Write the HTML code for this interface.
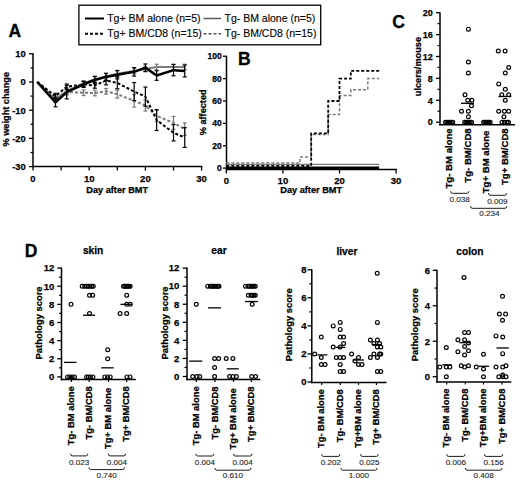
<!DOCTYPE html>
<html><head><meta charset="utf-8"><style>
html,body{margin:0;padding:0;background:#fff;width:520px;height:480px;overflow:hidden}
svg{display:block}
text{font-family:"Liberation Sans", sans-serif;}
</style></head><body>
<svg width="520" height="480" viewBox="0 0 520 480">
<rect width="520" height="480" fill="#fff"/>
<line x1="33.00" y1="53.30" x2="33.00" y2="167.35" stroke="#000" stroke-width="1.5" />
<line x1="32.25" y1="166.60" x2="202.35" y2="166.60" stroke="#000" stroke-width="1.5" />
<line x1="29.00" y1="53.80" x2="33.00" y2="53.80" stroke="#000" stroke-width="1.3" />
<text x="25.70" y="57.10" font-size="9.3" font-weight="bold" text-anchor="end" fill="#000"  stroke="#000" stroke-width="0.25">10</text>
<line x1="29.00" y1="82.00" x2="33.00" y2="82.00" stroke="#000" stroke-width="1.3" />
<text x="25.70" y="85.30" font-size="9.3" font-weight="bold" text-anchor="end" fill="#000"  stroke="#000" stroke-width="0.25">0</text>
<line x1="29.00" y1="110.20" x2="33.00" y2="110.20" stroke="#000" stroke-width="1.3" />
<text x="25.70" y="113.50" font-size="9.3" font-weight="bold" text-anchor="end" fill="#000"  stroke="#000" stroke-width="0.25">-10</text>
<line x1="29.00" y1="138.40" x2="33.00" y2="138.40" stroke="#000" stroke-width="1.3" />
<text x="25.70" y="141.70" font-size="9.3" font-weight="bold" text-anchor="end" fill="#000"  stroke="#000" stroke-width="0.25">-20</text>
<line x1="29.00" y1="166.60" x2="33.00" y2="166.60" stroke="#000" stroke-width="1.3" />
<text x="25.70" y="169.90" font-size="9.3" font-weight="bold" text-anchor="end" fill="#000"  stroke="#000" stroke-width="0.25">-30</text>
<line x1="30.50" y1="67.90" x2="33.00" y2="67.90" stroke="#000" stroke-width="1.2" />
<line x1="30.50" y1="96.10" x2="33.00" y2="96.10" stroke="#000" stroke-width="1.2" />
<line x1="30.50" y1="124.30" x2="33.00" y2="124.30" stroke="#000" stroke-width="1.2" />
<line x1="30.50" y1="152.50" x2="33.00" y2="152.50" stroke="#000" stroke-width="1.2" />
<line x1="33.00" y1="166.60" x2="33.00" y2="170.60" stroke="#000" stroke-width="1.3" />
<line x1="61.10" y1="166.60" x2="61.10" y2="170.60" stroke="#000" stroke-width="1.3" />
<line x1="89.20" y1="166.60" x2="89.20" y2="170.60" stroke="#000" stroke-width="1.3" />
<line x1="117.30" y1="166.60" x2="117.30" y2="170.60" stroke="#000" stroke-width="1.3" />
<line x1="145.40" y1="166.60" x2="145.40" y2="170.60" stroke="#000" stroke-width="1.3" />
<line x1="173.50" y1="166.60" x2="173.50" y2="170.60" stroke="#000" stroke-width="1.3" />
<line x1="201.60" y1="166.60" x2="201.60" y2="170.60" stroke="#000" stroke-width="1.3" />
<text x="33.00" y="181.70" font-size="9.5" font-weight="bold" text-anchor="middle" fill="#000"  stroke="#000" stroke-width="0.25">0</text>
<text x="89.20" y="181.70" font-size="9.5" font-weight="bold" text-anchor="middle" fill="#000"  stroke="#000" stroke-width="0.25">10</text>
<text x="145.40" y="181.70" font-size="9.5" font-weight="bold" text-anchor="middle" fill="#000"  stroke="#000" stroke-width="0.25">20</text>
<text x="201.60" y="181.70" font-size="9.5" font-weight="bold" text-anchor="middle" fill="#000"  stroke="#000" stroke-width="0.25">30</text>
<text x="86.30" y="193.10" font-size="9.2" font-weight="bold" text-anchor="start" fill="#000"  stroke="#000" stroke-width="0.25">Day after BMT</text>
<text x="9.30" y="146.50" font-size="9.2" font-weight="bold" text-anchor="start" fill="#000" transform="rotate(-90 9.30 146.50)"  stroke="#000" stroke-width="0.25">% weight change</text>
<text x="8.50" y="36.50" font-size="17.5" font-weight="bold" text-anchor="start" fill="#000" stroke="#000" stroke-width="0.3">A</text>
<polyline points="37.22,82.00 55.48,97.79 66.72,92.15 83.58,92.72 94.82,93.00 106.06,91.31 117.30,94.13 134.16,100.89 145.40,105.41 156.64,115.84 173.50,122.89 184.74,129.09" fill="none" stroke="#7a7a7a" stroke-width="2" stroke-dasharray="3,2" stroke-linejoin="round"/>
<line x1="55.48" y1="94.97" x2="55.48" y2="100.61" stroke="#7a7a7a" stroke-width="1.2" />
<line x1="53.48" y1="94.97" x2="57.48" y2="94.97" stroke="#7a7a7a" stroke-width="1.2" />
<line x1="53.48" y1="100.61" x2="57.48" y2="100.61" stroke="#7a7a7a" stroke-width="1.2" />
<line x1="66.72" y1="89.33" x2="66.72" y2="94.97" stroke="#7a7a7a" stroke-width="1.2" />
<line x1="64.72" y1="89.33" x2="68.72" y2="89.33" stroke="#7a7a7a" stroke-width="1.2" />
<line x1="64.72" y1="94.97" x2="68.72" y2="94.97" stroke="#7a7a7a" stroke-width="1.2" />
<line x1="83.58" y1="89.90" x2="83.58" y2="95.54" stroke="#7a7a7a" stroke-width="1.2" />
<line x1="81.58" y1="89.90" x2="85.58" y2="89.90" stroke="#7a7a7a" stroke-width="1.2" />
<line x1="81.58" y1="95.54" x2="85.58" y2="95.54" stroke="#7a7a7a" stroke-width="1.2" />
<line x1="94.82" y1="90.18" x2="94.82" y2="95.82" stroke="#7a7a7a" stroke-width="1.2" />
<line x1="92.82" y1="90.18" x2="96.82" y2="90.18" stroke="#7a7a7a" stroke-width="1.2" />
<line x1="92.82" y1="95.82" x2="96.82" y2="95.82" stroke="#7a7a7a" stroke-width="1.2" />
<line x1="106.06" y1="88.49" x2="106.06" y2="94.13" stroke="#7a7a7a" stroke-width="1.2" />
<line x1="104.06" y1="88.49" x2="108.06" y2="88.49" stroke="#7a7a7a" stroke-width="1.2" />
<line x1="104.06" y1="94.13" x2="108.06" y2="94.13" stroke="#7a7a7a" stroke-width="1.2" />
<line x1="117.30" y1="90.18" x2="117.30" y2="98.07" stroke="#7a7a7a" stroke-width="1.2" />
<line x1="115.30" y1="90.18" x2="119.30" y2="90.18" stroke="#7a7a7a" stroke-width="1.2" />
<line x1="115.30" y1="98.07" x2="119.30" y2="98.07" stroke="#7a7a7a" stroke-width="1.2" />
<line x1="134.16" y1="94.69" x2="134.16" y2="107.10" stroke="#7a7a7a" stroke-width="1.2" />
<line x1="132.16" y1="94.69" x2="136.16" y2="94.69" stroke="#7a7a7a" stroke-width="1.2" />
<line x1="132.16" y1="107.10" x2="136.16" y2="107.10" stroke="#7a7a7a" stroke-width="1.2" />
<line x1="145.40" y1="99.77" x2="145.40" y2="111.05" stroke="#7a7a7a" stroke-width="1.2" />
<line x1="143.40" y1="99.77" x2="147.40" y2="99.77" stroke="#7a7a7a" stroke-width="1.2" />
<line x1="143.40" y1="111.05" x2="147.40" y2="111.05" stroke="#7a7a7a" stroke-width="1.2" />
<line x1="156.64" y1="110.20" x2="156.64" y2="121.48" stroke="#7a7a7a" stroke-width="1.2" />
<line x1="154.64" y1="110.20" x2="158.64" y2="110.20" stroke="#7a7a7a" stroke-width="1.2" />
<line x1="154.64" y1="121.48" x2="158.64" y2="121.48" stroke="#7a7a7a" stroke-width="1.2" />
<line x1="173.50" y1="116.40" x2="173.50" y2="129.38" stroke="#7a7a7a" stroke-width="1.2" />
<line x1="171.50" y1="116.40" x2="175.50" y2="116.40" stroke="#7a7a7a" stroke-width="1.2" />
<line x1="171.50" y1="129.38" x2="175.50" y2="129.38" stroke="#7a7a7a" stroke-width="1.2" />
<line x1="184.74" y1="122.89" x2="184.74" y2="135.30" stroke="#7a7a7a" stroke-width="1.2" />
<line x1="182.74" y1="122.89" x2="186.74" y2="122.89" stroke="#7a7a7a" stroke-width="1.2" />
<line x1="182.74" y1="135.30" x2="186.74" y2="135.30" stroke="#7a7a7a" stroke-width="1.2" />
<polyline points="37.22,82.00 55.48,99.48 66.72,91.02 83.58,83.41 94.82,79.18 106.06,76.36 117.30,73.82 134.16,71.00 145.40,69.03 156.64,67.05 173.50,67.05 184.74,67.05" fill="none" stroke="#7a7a7a" stroke-width="2"  stroke-linejoin="round"/>
<line x1="55.48" y1="96.66" x2="55.48" y2="102.30" stroke="#7a7a7a" stroke-width="1.2" />
<line x1="53.48" y1="96.66" x2="57.48" y2="96.66" stroke="#7a7a7a" stroke-width="1.2" />
<line x1="53.48" y1="102.30" x2="57.48" y2="102.30" stroke="#7a7a7a" stroke-width="1.2" />
<line x1="66.72" y1="88.20" x2="66.72" y2="93.84" stroke="#7a7a7a" stroke-width="1.2" />
<line x1="64.72" y1="88.20" x2="68.72" y2="88.20" stroke="#7a7a7a" stroke-width="1.2" />
<line x1="64.72" y1="93.84" x2="68.72" y2="93.84" stroke="#7a7a7a" stroke-width="1.2" />
<line x1="83.58" y1="80.59" x2="83.58" y2="86.23" stroke="#7a7a7a" stroke-width="1.2" />
<line x1="81.58" y1="80.59" x2="85.58" y2="80.59" stroke="#7a7a7a" stroke-width="1.2" />
<line x1="81.58" y1="86.23" x2="85.58" y2="86.23" stroke="#7a7a7a" stroke-width="1.2" />
<line x1="94.82" y1="76.36" x2="94.82" y2="82.00" stroke="#7a7a7a" stroke-width="1.2" />
<line x1="92.82" y1="76.36" x2="96.82" y2="76.36" stroke="#7a7a7a" stroke-width="1.2" />
<line x1="92.82" y1="82.00" x2="96.82" y2="82.00" stroke="#7a7a7a" stroke-width="1.2" />
<line x1="106.06" y1="73.54" x2="106.06" y2="79.18" stroke="#7a7a7a" stroke-width="1.2" />
<line x1="104.06" y1="73.54" x2="108.06" y2="73.54" stroke="#7a7a7a" stroke-width="1.2" />
<line x1="104.06" y1="79.18" x2="108.06" y2="79.18" stroke="#7a7a7a" stroke-width="1.2" />
<line x1="117.30" y1="71.00" x2="117.30" y2="76.64" stroke="#7a7a7a" stroke-width="1.2" />
<line x1="115.30" y1="71.00" x2="119.30" y2="71.00" stroke="#7a7a7a" stroke-width="1.2" />
<line x1="115.30" y1="76.64" x2="119.30" y2="76.64" stroke="#7a7a7a" stroke-width="1.2" />
<line x1="134.16" y1="68.18" x2="134.16" y2="73.82" stroke="#7a7a7a" stroke-width="1.2" />
<line x1="132.16" y1="68.18" x2="136.16" y2="68.18" stroke="#7a7a7a" stroke-width="1.2" />
<line x1="132.16" y1="73.82" x2="136.16" y2="73.82" stroke="#7a7a7a" stroke-width="1.2" />
<line x1="145.40" y1="66.21" x2="145.40" y2="71.85" stroke="#7a7a7a" stroke-width="1.2" />
<line x1="143.40" y1="66.21" x2="147.40" y2="66.21" stroke="#7a7a7a" stroke-width="1.2" />
<line x1="143.40" y1="71.85" x2="147.40" y2="71.85" stroke="#7a7a7a" stroke-width="1.2" />
<line x1="156.64" y1="64.23" x2="156.64" y2="69.87" stroke="#7a7a7a" stroke-width="1.2" />
<line x1="154.64" y1="64.23" x2="158.64" y2="64.23" stroke="#7a7a7a" stroke-width="1.2" />
<line x1="154.64" y1="69.87" x2="158.64" y2="69.87" stroke="#7a7a7a" stroke-width="1.2" />
<line x1="173.50" y1="64.23" x2="173.50" y2="69.87" stroke="#7a7a7a" stroke-width="1.2" />
<line x1="171.50" y1="64.23" x2="175.50" y2="64.23" stroke="#7a7a7a" stroke-width="1.2" />
<line x1="171.50" y1="69.87" x2="175.50" y2="69.87" stroke="#7a7a7a" stroke-width="1.2" />
<line x1="184.74" y1="64.23" x2="184.74" y2="69.87" stroke="#7a7a7a" stroke-width="1.2" />
<line x1="182.74" y1="64.23" x2="186.74" y2="64.23" stroke="#7a7a7a" stroke-width="1.2" />
<line x1="182.74" y1="69.87" x2="186.74" y2="69.87" stroke="#7a7a7a" stroke-width="1.2" />
<polyline points="37.22,82.00 55.48,96.10 66.72,86.79 83.58,84.54 94.82,85.38 106.06,80.59 117.30,82.85 134.16,91.59 145.40,96.66 156.64,120.07 173.50,132.76 184.74,137.55" fill="none" stroke="#000" stroke-width="2" stroke-dasharray="3,2" stroke-linejoin="round"/>
<line x1="55.48" y1="93.28" x2="55.48" y2="98.92" stroke="#000" stroke-width="1.2" />
<line x1="53.48" y1="93.28" x2="57.48" y2="93.28" stroke="#000" stroke-width="1.2" />
<line x1="53.48" y1="98.92" x2="57.48" y2="98.92" stroke="#000" stroke-width="1.2" />
<line x1="66.72" y1="83.97" x2="66.72" y2="89.61" stroke="#000" stroke-width="1.2" />
<line x1="64.72" y1="83.97" x2="68.72" y2="83.97" stroke="#000" stroke-width="1.2" />
<line x1="64.72" y1="89.61" x2="68.72" y2="89.61" stroke="#000" stroke-width="1.2" />
<line x1="83.58" y1="81.72" x2="83.58" y2="87.36" stroke="#000" stroke-width="1.2" />
<line x1="81.58" y1="81.72" x2="85.58" y2="81.72" stroke="#000" stroke-width="1.2" />
<line x1="81.58" y1="87.36" x2="85.58" y2="87.36" stroke="#000" stroke-width="1.2" />
<line x1="94.82" y1="82.56" x2="94.82" y2="88.20" stroke="#000" stroke-width="1.2" />
<line x1="92.82" y1="82.56" x2="96.82" y2="82.56" stroke="#000" stroke-width="1.2" />
<line x1="92.82" y1="88.20" x2="96.82" y2="88.20" stroke="#000" stroke-width="1.2" />
<line x1="106.06" y1="76.36" x2="106.06" y2="84.82" stroke="#000" stroke-width="1.2" />
<line x1="104.06" y1="76.36" x2="108.06" y2="76.36" stroke="#000" stroke-width="1.2" />
<line x1="104.06" y1="84.82" x2="108.06" y2="84.82" stroke="#000" stroke-width="1.2" />
<line x1="117.30" y1="76.92" x2="117.30" y2="88.77" stroke="#000" stroke-width="1.2" />
<line x1="115.30" y1="76.92" x2="119.30" y2="76.92" stroke="#000" stroke-width="1.2" />
<line x1="115.30" y1="88.77" x2="119.30" y2="88.77" stroke="#000" stroke-width="1.2" />
<line x1="134.16" y1="82.56" x2="134.16" y2="100.61" stroke="#000" stroke-width="1.2" />
<line x1="132.16" y1="82.56" x2="136.16" y2="82.56" stroke="#000" stroke-width="1.2" />
<line x1="132.16" y1="100.61" x2="136.16" y2="100.61" stroke="#000" stroke-width="1.2" />
<line x1="145.40" y1="87.08" x2="145.40" y2="106.25" stroke="#000" stroke-width="1.2" />
<line x1="143.40" y1="87.08" x2="147.40" y2="87.08" stroke="#000" stroke-width="1.2" />
<line x1="143.40" y1="106.25" x2="147.40" y2="106.25" stroke="#000" stroke-width="1.2" />
<line x1="156.64" y1="109.64" x2="156.64" y2="130.50" stroke="#000" stroke-width="1.2" />
<line x1="154.64" y1="109.64" x2="158.64" y2="109.64" stroke="#000" stroke-width="1.2" />
<line x1="154.64" y1="130.50" x2="158.64" y2="130.50" stroke="#000" stroke-width="1.2" />
<line x1="173.50" y1="124.58" x2="173.50" y2="140.94" stroke="#000" stroke-width="1.2" />
<line x1="171.50" y1="124.58" x2="175.50" y2="124.58" stroke="#000" stroke-width="1.2" />
<line x1="171.50" y1="140.94" x2="175.50" y2="140.94" stroke="#000" stroke-width="1.2" />
<line x1="184.74" y1="127.68" x2="184.74" y2="147.42" stroke="#000" stroke-width="1.2" />
<line x1="182.74" y1="127.68" x2="186.74" y2="127.68" stroke="#000" stroke-width="1.2" />
<line x1="182.74" y1="147.42" x2="186.74" y2="147.42" stroke="#000" stroke-width="1.2" />
<polyline points="37.22,82.00 55.48,102.30 66.72,92.15 83.58,84.26 94.82,80.03 106.06,76.92 117.30,74.67 134.16,71.85 145.40,67.62 156.64,75.51 173.50,70.16 184.74,71.00" fill="none" stroke="#000" stroke-width="2.5"  stroke-linejoin="round"/>
<line x1="55.48" y1="97.79" x2="55.48" y2="106.82" stroke="#000" stroke-width="1.2" />
<line x1="53.48" y1="97.79" x2="57.48" y2="97.79" stroke="#000" stroke-width="1.2" />
<line x1="53.48" y1="106.82" x2="57.48" y2="106.82" stroke="#000" stroke-width="1.2" />
<line x1="66.72" y1="85.38" x2="66.72" y2="98.92" stroke="#000" stroke-width="1.2" />
<line x1="64.72" y1="85.38" x2="68.72" y2="85.38" stroke="#000" stroke-width="1.2" />
<line x1="64.72" y1="98.92" x2="68.72" y2="98.92" stroke="#000" stroke-width="1.2" />
<line x1="83.58" y1="81.44" x2="83.58" y2="87.08" stroke="#000" stroke-width="1.2" />
<line x1="81.58" y1="81.44" x2="85.58" y2="81.44" stroke="#000" stroke-width="1.2" />
<line x1="81.58" y1="87.08" x2="85.58" y2="87.08" stroke="#000" stroke-width="1.2" />
<line x1="94.82" y1="76.36" x2="94.82" y2="83.69" stroke="#000" stroke-width="1.2" />
<line x1="92.82" y1="76.36" x2="96.82" y2="76.36" stroke="#000" stroke-width="1.2" />
<line x1="92.82" y1="83.69" x2="96.82" y2="83.69" stroke="#000" stroke-width="1.2" />
<line x1="106.06" y1="73.26" x2="106.06" y2="80.59" stroke="#000" stroke-width="1.2" />
<line x1="104.06" y1="73.26" x2="108.06" y2="73.26" stroke="#000" stroke-width="1.2" />
<line x1="104.06" y1="80.59" x2="108.06" y2="80.59" stroke="#000" stroke-width="1.2" />
<line x1="117.30" y1="70.44" x2="117.30" y2="78.90" stroke="#000" stroke-width="1.2" />
<line x1="115.30" y1="70.44" x2="119.30" y2="70.44" stroke="#000" stroke-width="1.2" />
<line x1="115.30" y1="78.90" x2="119.30" y2="78.90" stroke="#000" stroke-width="1.2" />
<line x1="134.16" y1="67.62" x2="134.16" y2="76.08" stroke="#000" stroke-width="1.2" />
<line x1="132.16" y1="67.62" x2="136.16" y2="67.62" stroke="#000" stroke-width="1.2" />
<line x1="132.16" y1="76.08" x2="136.16" y2="76.08" stroke="#000" stroke-width="1.2" />
<line x1="145.40" y1="63.95" x2="145.40" y2="71.28" stroke="#000" stroke-width="1.2" />
<line x1="143.40" y1="63.95" x2="147.40" y2="63.95" stroke="#000" stroke-width="1.2" />
<line x1="143.40" y1="71.28" x2="147.40" y2="71.28" stroke="#000" stroke-width="1.2" />
<line x1="156.64" y1="70.72" x2="156.64" y2="80.31" stroke="#000" stroke-width="1.2" />
<line x1="154.64" y1="70.72" x2="158.64" y2="70.72" stroke="#000" stroke-width="1.2" />
<line x1="154.64" y1="80.31" x2="158.64" y2="80.31" stroke="#000" stroke-width="1.2" />
<line x1="173.50" y1="64.52" x2="173.50" y2="75.80" stroke="#000" stroke-width="1.2" />
<line x1="171.50" y1="64.52" x2="175.50" y2="64.52" stroke="#000" stroke-width="1.2" />
<line x1="171.50" y1="75.80" x2="175.50" y2="75.80" stroke="#000" stroke-width="1.2" />
<line x1="184.74" y1="65.08" x2="184.74" y2="76.92" stroke="#000" stroke-width="1.2" />
<line x1="182.74" y1="65.08" x2="186.74" y2="65.08" stroke="#000" stroke-width="1.2" />
<line x1="182.74" y1="76.92" x2="186.74" y2="76.92" stroke="#000" stroke-width="1.2" />
<rect x="78.9" y="5.2" width="241.8" height="39.6" fill="none" stroke="#000" stroke-width="1.3"/>
<line x1="85.00" y1="18.50" x2="104.00" y2="18.50" stroke="#000" stroke-width="2" />
<line x1="85.00" y1="33.80" x2="104.00" y2="33.80" stroke="#000" stroke-width="2" stroke-dasharray="3,2"/>
<line x1="203.50" y1="18.50" x2="221.00" y2="18.50" stroke="#5a5a5a" stroke-width="1.5" />
<line x1="203.50" y1="33.80" x2="221.00" y2="33.80" stroke="#5a5a5a" stroke-width="1.5" stroke-dasharray="3,2"/>
<text x="107.20" y="21.60" font-size="10.5" font-weight="normal" text-anchor="start" fill="#000" stroke="#000" stroke-width="0.12">Tg+ BM alone (n=5)</text>
<text x="107.20" y="37.10" font-size="10.5" font-weight="normal" text-anchor="start" fill="#000" stroke="#000" stroke-width="0.12">Tg+ BM/CD8 (n=15)</text>
<text x="224.50" y="21.60" font-size="10.5" font-weight="normal" text-anchor="start" fill="#000" stroke="#000" stroke-width="0.12">Tg- BM alone (n=5)</text>
<text x="224.50" y="37.10" font-size="10.5" font-weight="normal" text-anchor="start" fill="#000" stroke="#000" stroke-width="0.12">Tg- BM/CD8 (n=15)</text>
<line x1="226.50" y1="55.75" x2="226.50" y2="169.10" stroke="#000" stroke-width="1.5" />
<line x1="225.75" y1="169.50" x2="396.85" y2="169.50" stroke="#000" stroke-width="1.5" />
<line x1="223.00" y1="168.10" x2="226.50" y2="168.10" stroke="#000" stroke-width="1.3" />
<text x="221.70" y="171.10" font-size="8.5" font-weight="bold" text-anchor="end" fill="#000"  stroke="#000" stroke-width="0.25">0</text>
<line x1="223.00" y1="145.73" x2="226.50" y2="145.73" stroke="#000" stroke-width="1.3" />
<text x="221.70" y="148.73" font-size="8.5" font-weight="bold" text-anchor="end" fill="#000"  stroke="#000" stroke-width="0.25">20</text>
<line x1="223.00" y1="123.36" x2="226.50" y2="123.36" stroke="#000" stroke-width="1.3" />
<text x="221.70" y="126.36" font-size="8.5" font-weight="bold" text-anchor="end" fill="#000"  stroke="#000" stroke-width="0.25">40</text>
<line x1="223.00" y1="100.99" x2="226.50" y2="100.99" stroke="#000" stroke-width="1.3" />
<text x="221.70" y="103.99" font-size="8.5" font-weight="bold" text-anchor="end" fill="#000"  stroke="#000" stroke-width="0.25">60</text>
<line x1="223.00" y1="78.62" x2="226.50" y2="78.62" stroke="#000" stroke-width="1.3" />
<text x="221.70" y="81.62" font-size="8.5" font-weight="bold" text-anchor="end" fill="#000"  stroke="#000" stroke-width="0.25">80</text>
<line x1="223.00" y1="56.25" x2="226.50" y2="56.25" stroke="#000" stroke-width="1.3" />
<text x="221.70" y="59.25" font-size="8.5" font-weight="bold" text-anchor="end" fill="#000"  stroke="#000" stroke-width="0.25">100</text>
<line x1="226.30" y1="169.50" x2="226.30" y2="173.50" stroke="#000" stroke-width="1.3" />
<line x1="282.90" y1="169.50" x2="282.90" y2="173.50" stroke="#000" stroke-width="1.3" />
<line x1="339.50" y1="169.50" x2="339.50" y2="173.50" stroke="#000" stroke-width="1.3" />
<line x1="396.10" y1="169.50" x2="396.10" y2="173.50" stroke="#000" stroke-width="1.3" />
<text x="226.30" y="184.30" font-size="9.5" font-weight="bold" text-anchor="middle" fill="#000"  stroke="#000" stroke-width="0.25">0</text>
<text x="282.90" y="184.30" font-size="9.5" font-weight="bold" text-anchor="middle" fill="#000"  stroke="#000" stroke-width="0.25">10</text>
<text x="339.50" y="184.30" font-size="9.5" font-weight="bold" text-anchor="middle" fill="#000"  stroke="#000" stroke-width="0.25">20</text>
<text x="396.10" y="184.30" font-size="9.5" font-weight="bold" text-anchor="middle" fill="#000"  stroke="#000" stroke-width="0.25">30</text>
<text x="280.30" y="193.10" font-size="9.2" font-weight="bold" text-anchor="start" fill="#000"  stroke="#000" stroke-width="0.25">Day after BMT</text>
<text x="206.30" y="135.30" font-size="9.2" font-weight="bold" text-anchor="start" fill="#000" transform="rotate(-90 206.30 135.30)"  stroke="#000" stroke-width="0.25">% affected</text>
<text x="238.00" y="64.90" font-size="17.5" font-weight="bold" text-anchor="start" fill="#000" stroke="#000" stroke-width="0.3">B</text>
<line x1="226.50" y1="164.40" x2="379.12" y2="164.40" stroke="#7a7a7a" stroke-width="1.3" />
<path d="M226.30,163.07 L299.88,163.07 L299.88,156.91 L311.20,156.91 L311.20,134.54 L328.18,134.54 L328.18,114.41 L339.50,114.41 L339.50,95.40 L350.82,95.40 L350.82,89.80 L367.80,89.80 L367.80,78.62 L379.12,78.62" fill="none" stroke="#7a7a7a" stroke-width="1.5" stroke-dasharray="3,2"/>
<path d="M226.30,165.86 L311.20,165.86 L311.20,133.43 L328.18,133.43 L328.18,100.99 L339.50,100.99 L339.50,78.62 L350.82,78.62 L350.82,70.79 L379.12,70.79" fill="none" stroke="#000" stroke-width="1.8" stroke-dasharray="3,2"/>
<line x1="226.50" y1="167.90" x2="379.12" y2="167.90" stroke="#000" stroke-width="3" />
<line x1="440.00" y1="12.20" x2="440.00" y2="125.50" stroke="#000" stroke-width="1.5" />
<line x1="439.25" y1="124.80" x2="515.00" y2="124.80" stroke="#000" stroke-width="1.5" />
<line x1="436.00" y1="122.20" x2="440.00" y2="122.20" stroke="#000" stroke-width="1.3" />
<text x="432.80" y="125.40" font-size="9" font-weight="bold" text-anchor="end" fill="#000"  stroke="#000" stroke-width="0.25">0</text>
<line x1="436.00" y1="100.30" x2="440.00" y2="100.30" stroke="#000" stroke-width="1.3" />
<text x="432.80" y="103.50" font-size="9" font-weight="bold" text-anchor="end" fill="#000"  stroke="#000" stroke-width="0.25">4</text>
<line x1="436.00" y1="78.40" x2="440.00" y2="78.40" stroke="#000" stroke-width="1.3" />
<text x="432.80" y="81.60" font-size="9" font-weight="bold" text-anchor="end" fill="#000"  stroke="#000" stroke-width="0.25">8</text>
<line x1="436.00" y1="56.50" x2="440.00" y2="56.50" stroke="#000" stroke-width="1.3" />
<text x="432.80" y="59.70" font-size="9" font-weight="bold" text-anchor="end" fill="#000"  stroke="#000" stroke-width="0.25">12</text>
<line x1="436.00" y1="34.60" x2="440.00" y2="34.60" stroke="#000" stroke-width="1.3" />
<text x="432.80" y="37.80" font-size="9" font-weight="bold" text-anchor="end" fill="#000"  stroke="#000" stroke-width="0.25">16</text>
<line x1="436.00" y1="12.70" x2="440.00" y2="12.70" stroke="#000" stroke-width="1.3" />
<text x="432.80" y="15.90" font-size="9" font-weight="bold" text-anchor="end" fill="#000"  stroke="#000" stroke-width="0.25">20</text>
<line x1="437.50" y1="111.25" x2="440.00" y2="111.25" stroke="#000" stroke-width="1.2" />
<line x1="437.50" y1="89.35" x2="440.00" y2="89.35" stroke="#000" stroke-width="1.2" />
<line x1="437.50" y1="67.45" x2="440.00" y2="67.45" stroke="#000" stroke-width="1.2" />
<line x1="437.50" y1="45.55" x2="440.00" y2="45.55" stroke="#000" stroke-width="1.2" />
<line x1="437.50" y1="23.65" x2="440.00" y2="23.65" stroke="#000" stroke-width="1.2" />
<text x="420.80" y="96.20" font-size="9.2" font-weight="bold" text-anchor="start" fill="#000" transform="rotate(-90 420.80 96.20)"  stroke="#000" stroke-width="0.25">ulcers/mouse</text>
<text x="392.30" y="27.70" font-size="17.5" font-weight="bold" text-anchor="start" fill="#000" stroke="#000" stroke-width="0.3">C</text>
<circle cx="445.50" cy="122.20" r="1.9" fill="none" stroke="#000" stroke-width="1.2"/>
<circle cx="446.96" cy="122.20" r="1.9" fill="none" stroke="#000" stroke-width="1.2"/>
<circle cx="448.42" cy="122.20" r="1.9" fill="none" stroke="#000" stroke-width="1.2"/>
<circle cx="449.88" cy="122.20" r="1.9" fill="none" stroke="#000" stroke-width="1.2"/>
<circle cx="451.34" cy="122.20" r="1.9" fill="none" stroke="#000" stroke-width="1.2"/>
<circle cx="452.80" cy="122.20" r="1.9" fill="none" stroke="#000" stroke-width="1.2"/>
<circle cx="464.60" cy="122.20" r="1.9" fill="none" stroke="#000" stroke-width="1.2"/>
<circle cx="466.00" cy="122.20" r="1.9" fill="none" stroke="#000" stroke-width="1.2"/>
<circle cx="467.40" cy="122.20" r="1.9" fill="none" stroke="#000" stroke-width="1.2"/>
<circle cx="468.80" cy="122.20" r="1.9" fill="none" stroke="#000" stroke-width="1.2"/>
<circle cx="470.20" cy="122.20" r="1.9" fill="none" stroke="#000" stroke-width="1.2"/>
<circle cx="471.60" cy="122.20" r="1.9" fill="none" stroke="#000" stroke-width="1.2"/>
<circle cx="483.60" cy="122.20" r="1.9" fill="none" stroke="#000" stroke-width="1.2"/>
<circle cx="484.92" cy="122.20" r="1.9" fill="none" stroke="#000" stroke-width="1.2"/>
<circle cx="486.24" cy="122.20" r="1.9" fill="none" stroke="#000" stroke-width="1.2"/>
<circle cx="487.56" cy="122.20" r="1.9" fill="none" stroke="#000" stroke-width="1.2"/>
<circle cx="488.88" cy="122.20" r="1.9" fill="none" stroke="#000" stroke-width="1.2"/>
<circle cx="490.20" cy="122.20" r="1.9" fill="none" stroke="#000" stroke-width="1.2"/>
<circle cx="502.00" cy="122.20" r="1.9" fill="none" stroke="#000" stroke-width="1.2"/>
<circle cx="504.50" cy="122.20" r="1.9" fill="none" stroke="#000" stroke-width="1.2"/>
<circle cx="507.00" cy="122.20" r="1.9" fill="none" stroke="#000" stroke-width="1.2"/>
<circle cx="508.50" cy="122.20" r="1.9" fill="none" stroke="#000" stroke-width="1.2"/>
<circle cx="468.40" cy="29.13" r="1.9" fill="none" stroke="#000" stroke-width="1.2"/>
<circle cx="468.40" cy="61.98" r="1.9" fill="none" stroke="#000" stroke-width="1.2"/>
<circle cx="468.40" cy="72.93" r="1.9" fill="none" stroke="#000" stroke-width="1.2"/>
<circle cx="465.00" cy="94.83" r="1.9" fill="none" stroke="#000" stroke-width="1.2"/>
<circle cx="467.70" cy="100.30" r="1.9" fill="none" stroke="#000" stroke-width="1.2"/>
<circle cx="471.90" cy="100.30" r="1.9" fill="none" stroke="#000" stroke-width="1.2"/>
<circle cx="471.50" cy="105.78" r="1.9" fill="none" stroke="#000" stroke-width="1.2"/>
<circle cx="461.50" cy="111.25" r="1.9" fill="none" stroke="#000" stroke-width="1.2"/>
<circle cx="468.40" cy="111.25" r="1.9" fill="none" stroke="#000" stroke-width="1.2"/>
<circle cx="468.40" cy="116.73" r="1.9" fill="none" stroke="#000" stroke-width="1.2"/>
<circle cx="498.30" cy="51.03" r="1.9" fill="none" stroke="#000" stroke-width="1.2"/>
<circle cx="505.10" cy="51.03" r="1.9" fill="none" stroke="#000" stroke-width="1.2"/>
<circle cx="508.70" cy="67.45" r="1.9" fill="none" stroke="#000" stroke-width="1.2"/>
<circle cx="505.30" cy="72.93" r="1.9" fill="none" stroke="#000" stroke-width="1.2"/>
<circle cx="498.70" cy="83.88" r="1.9" fill="none" stroke="#000" stroke-width="1.2"/>
<circle cx="505.30" cy="89.35" r="1.9" fill="none" stroke="#000" stroke-width="1.2"/>
<circle cx="501.80" cy="94.83" r="1.9" fill="none" stroke="#000" stroke-width="1.2"/>
<circle cx="508.70" cy="94.83" r="1.9" fill="none" stroke="#000" stroke-width="1.2"/>
<circle cx="505.30" cy="100.30" r="1.9" fill="none" stroke="#000" stroke-width="1.2"/>
<circle cx="498.70" cy="111.25" r="1.9" fill="none" stroke="#000" stroke-width="1.2"/>
<circle cx="504.40" cy="111.25" r="1.9" fill="none" stroke="#000" stroke-width="1.2"/>
<circle cx="508.70" cy="111.25" r="1.9" fill="none" stroke="#000" stroke-width="1.2"/>
<circle cx="503.90" cy="116.73" r="1.9" fill="none" stroke="#000" stroke-width="1.2"/>
<line x1="461.00" y1="103.31" x2="474.00" y2="103.31" stroke="#000" stroke-width="1.3" />
<line x1="498.40" y1="96.47" x2="511.30" y2="96.47" stroke="#000" stroke-width="1.3" />
<text x="452.50" y="128.30" font-size="9.6" font-weight="bold" text-anchor="end" fill="#000" transform="rotate(-90 452.50 128.30)"  stroke="#000" stroke-width="0.25">Tg- BM alone</text>
<text x="470.70" y="128.30" font-size="9.6" font-weight="bold" text-anchor="end" fill="#000" transform="rotate(-90 470.70 128.30)"  stroke="#000" stroke-width="0.25">Tg- BM/CD8</text>
<text x="489.00" y="130.60" font-size="9.6" font-weight="bold" text-anchor="end" fill="#000" transform="rotate(-90 489.00 130.60)"  stroke="#000" stroke-width="0.25">Tg+ BM alone</text>
<text x="507.90" y="128.30" font-size="9.6" font-weight="bold" text-anchor="end" fill="#000" transform="rotate(-90 507.90 128.30)"  stroke="#000" stroke-width="0.25">Tg+ BM/CD8</text>
<path d="M450.60,191.10 Q450.60,193.30 452.20,193.30 L467.30,193.30 Q468.90,193.30 468.90,191.10" fill="none" stroke="#1e1e1e" stroke-width="1.0"/>
<text x="459.75" y="201.50" font-size="8.1" font-weight="normal" text-anchor="middle" fill="#1e1e1e" stroke="#1e1e1e" stroke-width="0.12">0.038</text>
<path d="M488.40,193.10 Q488.40,195.30 490.00,195.30 L504.90,195.30 Q506.50,195.30 506.50,193.10" fill="none" stroke="#1e1e1e" stroke-width="1.0"/>
<text x="497.45" y="203.60" font-size="8.1" font-weight="normal" text-anchor="middle" fill="#1e1e1e" stroke="#1e1e1e" stroke-width="0.12">0.009</text>
<path d="M470.60,206.10 Q470.60,208.30 472.20,208.30 L505.00,208.30 Q506.60,208.30 506.60,206.10" fill="none" stroke="#1e1e1e" stroke-width="1.0"/>
<text x="489.50" y="215.60" font-size="8.1" font-weight="normal" text-anchor="middle" fill="#1e1e1e" stroke="#1e1e1e" stroke-width="0.12">0.234</text>
<text x="24.80" y="256.60" font-size="17.5" font-weight="bold" text-anchor="start" fill="#000" stroke="#000" stroke-width="0.3">D</text>
<line x1="61.50" y1="267.60" x2="61.50" y2="380.35" stroke="#000" stroke-width="1.5" />
<line x1="60.75" y1="379.60" x2="135.80" y2="379.60" stroke="#000" stroke-width="1.5" />
<line x1="57.20" y1="376.90" x2="61.50" y2="376.90" stroke="#000" stroke-width="1.3" />
<text x="54.30" y="380.20" font-size="9.5" font-weight="bold" text-anchor="end" fill="#000"  stroke="#000" stroke-width="0.25">0</text>
<line x1="57.20" y1="358.77" x2="61.50" y2="358.77" stroke="#000" stroke-width="1.3" />
<text x="54.30" y="362.07" font-size="9.5" font-weight="bold" text-anchor="end" fill="#000"  stroke="#000" stroke-width="0.25">2</text>
<line x1="57.20" y1="340.63" x2="61.50" y2="340.63" stroke="#000" stroke-width="1.3" />
<text x="54.30" y="343.93" font-size="9.5" font-weight="bold" text-anchor="end" fill="#000"  stroke="#000" stroke-width="0.25">4</text>
<line x1="57.20" y1="322.50" x2="61.50" y2="322.50" stroke="#000" stroke-width="1.3" />
<text x="54.30" y="325.80" font-size="9.5" font-weight="bold" text-anchor="end" fill="#000"  stroke="#000" stroke-width="0.25">6</text>
<line x1="57.20" y1="304.37" x2="61.50" y2="304.37" stroke="#000" stroke-width="1.3" />
<text x="54.30" y="307.67" font-size="9.5" font-weight="bold" text-anchor="end" fill="#000"  stroke="#000" stroke-width="0.25">8</text>
<line x1="57.20" y1="286.23" x2="61.50" y2="286.23" stroke="#000" stroke-width="1.3" />
<text x="54.30" y="289.53" font-size="9.5" font-weight="bold" text-anchor="end" fill="#000"  stroke="#000" stroke-width="0.25">10</text>
<line x1="57.20" y1="268.10" x2="61.50" y2="268.10" stroke="#000" stroke-width="1.3" />
<text x="54.30" y="271.40" font-size="9.5" font-weight="bold" text-anchor="end" fill="#000"  stroke="#000" stroke-width="0.25">12</text>
<line x1="59.00" y1="367.83" x2="61.50" y2="367.83" stroke="#000" stroke-width="1.2" />
<line x1="59.00" y1="349.70" x2="61.50" y2="349.70" stroke="#000" stroke-width="1.2" />
<line x1="59.00" y1="331.57" x2="61.50" y2="331.57" stroke="#000" stroke-width="1.2" />
<line x1="59.00" y1="313.43" x2="61.50" y2="313.43" stroke="#000" stroke-width="1.2" />
<line x1="59.00" y1="295.30" x2="61.50" y2="295.30" stroke="#000" stroke-width="1.2" />
<line x1="59.00" y1="277.17" x2="61.50" y2="277.17" stroke="#000" stroke-width="1.2" />
<text x="93.10" y="254.30" font-size="10.2" font-weight="bold" text-anchor="middle" fill="#000"  stroke="#000" stroke-width="0.25">skin</text>
<text x="42.10" y="359.40" font-size="9.4" font-weight="bold" text-anchor="start" fill="#000" transform="rotate(-90 42.10 359.40)"  stroke="#000" stroke-width="0.25">Pathology score</text>
<circle cx="71.00" cy="304.37" r="1.9" fill="none" stroke="#000" stroke-width="1.2"/>
<circle cx="67.60" cy="376.90" r="1.9" fill="none" stroke="#000" stroke-width="1.2"/>
<circle cx="69.80" cy="376.90" r="1.9" fill="none" stroke="#000" stroke-width="1.2"/>
<circle cx="72.20" cy="376.90" r="1.9" fill="none" stroke="#000" stroke-width="1.2"/>
<circle cx="74.50" cy="376.90" r="1.9" fill="none" stroke="#000" stroke-width="1.2"/>
<circle cx="82.20" cy="286.23" r="1.9" fill="none" stroke="#000" stroke-width="1.2"/>
<circle cx="84.80" cy="286.23" r="1.9" fill="none" stroke="#000" stroke-width="1.2"/>
<circle cx="86.50" cy="286.23" r="1.9" fill="none" stroke="#000" stroke-width="1.2"/>
<circle cx="88.20" cy="286.23" r="1.9" fill="none" stroke="#000" stroke-width="1.2"/>
<circle cx="90.00" cy="286.23" r="1.9" fill="none" stroke="#000" stroke-width="1.2"/>
<circle cx="91.70" cy="286.23" r="1.9" fill="none" stroke="#000" stroke-width="1.2"/>
<circle cx="93.30" cy="286.23" r="1.9" fill="none" stroke="#000" stroke-width="1.2"/>
<circle cx="89.50" cy="295.30" r="1.9" fill="none" stroke="#000" stroke-width="1.2"/>
<circle cx="92.70" cy="295.30" r="1.9" fill="none" stroke="#000" stroke-width="1.2"/>
<circle cx="89.50" cy="313.43" r="1.9" fill="none" stroke="#000" stroke-width="1.2"/>
<circle cx="86.60" cy="376.90" r="1.9" fill="none" stroke="#000" stroke-width="1.2"/>
<circle cx="88.40" cy="376.90" r="1.9" fill="none" stroke="#000" stroke-width="1.2"/>
<circle cx="90.50" cy="376.90" r="1.9" fill="none" stroke="#000" stroke-width="1.2"/>
<circle cx="92.90" cy="376.90" r="1.9" fill="none" stroke="#000" stroke-width="1.2"/>
<circle cx="107.70" cy="349.70" r="1.9" fill="none" stroke="#000" stroke-width="1.2"/>
<circle cx="107.70" cy="358.77" r="1.9" fill="none" stroke="#000" stroke-width="1.2"/>
<circle cx="104.80" cy="376.90" r="1.9" fill="none" stroke="#000" stroke-width="1.2"/>
<circle cx="107.50" cy="376.90" r="1.9" fill="none" stroke="#000" stroke-width="1.2"/>
<circle cx="110.20" cy="376.90" r="1.9" fill="none" stroke="#000" stroke-width="1.2"/>
<circle cx="123.50" cy="286.23" r="1.9" fill="none" stroke="#000" stroke-width="1.2"/>
<circle cx="124.80" cy="286.23" r="1.9" fill="none" stroke="#000" stroke-width="1.2"/>
<circle cx="126.20" cy="286.23" r="1.9" fill="none" stroke="#000" stroke-width="1.2"/>
<circle cx="127.50" cy="286.23" r="1.9" fill="none" stroke="#000" stroke-width="1.2"/>
<circle cx="128.80" cy="286.23" r="1.9" fill="none" stroke="#000" stroke-width="1.2"/>
<circle cx="130.20" cy="286.23" r="1.9" fill="none" stroke="#000" stroke-width="1.2"/>
<circle cx="126.70" cy="295.30" r="1.9" fill="none" stroke="#000" stroke-width="1.2"/>
<circle cx="126.70" cy="304.37" r="1.9" fill="none" stroke="#000" stroke-width="1.2"/>
<circle cx="130.20" cy="304.37" r="1.9" fill="none" stroke="#000" stroke-width="1.2"/>
<circle cx="120.10" cy="313.43" r="1.9" fill="none" stroke="#000" stroke-width="1.2"/>
<circle cx="126.70" cy="313.43" r="1.9" fill="none" stroke="#000" stroke-width="1.2"/>
<circle cx="127.00" cy="376.90" r="1.9" fill="none" stroke="#000" stroke-width="1.2"/>
<circle cx="130.00" cy="376.90" r="1.9" fill="none" stroke="#000" stroke-width="1.2"/>
<line x1="64.00" y1="362.39" x2="76.50" y2="362.39" stroke="#000" stroke-width="1.3" />
<line x1="83.00" y1="315.25" x2="95.00" y2="315.25" stroke="#000" stroke-width="1.3" />
<line x1="101.20" y1="367.83" x2="113.70" y2="367.83" stroke="#000" stroke-width="1.3" />
<line x1="120.50" y1="304.37" x2="132.50" y2="304.37" stroke="#000" stroke-width="1.3" />
<line x1="71.30" y1="379.60" x2="71.30" y2="382.10" stroke="#000" stroke-width="1.2" />
<text x="74.00" y="386.30" font-size="9.4" font-weight="bold" text-anchor="end" fill="#000" transform="rotate(-90 74.00 386.30)"  stroke="#000" stroke-width="0.25">Tg- BM alone</text>
<line x1="89.20" y1="379.60" x2="89.20" y2="382.10" stroke="#000" stroke-width="1.2" />
<text x="91.90" y="386.30" font-size="9.4" font-weight="bold" text-anchor="end" fill="#000" transform="rotate(-90 91.90 386.30)"  stroke="#000" stroke-width="0.25">Tg- BM/CD8</text>
<line x1="108.50" y1="379.60" x2="108.50" y2="382.10" stroke="#000" stroke-width="1.2" />
<text x="111.20" y="387.80" font-size="9.4" font-weight="bold" text-anchor="end" fill="#000" transform="rotate(-90 111.20 387.80)"  stroke="#000" stroke-width="0.25">Tg+ BM alone</text>
<line x1="126.60" y1="379.60" x2="126.60" y2="382.10" stroke="#000" stroke-width="1.2" />
<text x="129.30" y="386.30" font-size="9.4" font-weight="bold" text-anchor="end" fill="#000" transform="rotate(-90 129.30 386.30)"  stroke="#000" stroke-width="0.25">Tg+ BM/CD8</text>
<path d="M70.60,453.70 Q70.60,455.90 72.20,455.90 L86.20,455.90 Q87.80,455.90 87.80,453.70" fill="none" stroke="#1e1e1e" stroke-width="1.0"/>
<text x="79.20" y="464.80" font-size="8.1" font-weight="normal" text-anchor="middle" fill="#1e1e1e" stroke="#1e1e1e" stroke-width="0.12">0.023</text>
<path d="M108.40,453.70 Q108.40,455.90 110.00,455.90 L124.00,455.90 Q125.60,455.90 125.60,453.70" fill="none" stroke="#1e1e1e" stroke-width="1.0"/>
<text x="117.00" y="464.80" font-size="8.1" font-weight="normal" text-anchor="middle" fill="#1e1e1e" stroke="#1e1e1e" stroke-width="0.12">0.004</text>
<path d="M89.00,467.40 Q89.00,469.60 90.60,469.60 L122.80,469.60 Q124.40,469.60 124.40,467.40" fill="none" stroke="#1e1e1e" stroke-width="1.0"/>
<text x="106.70" y="477.80" font-size="8.1" font-weight="normal" text-anchor="middle" fill="#1e1e1e" stroke="#1e1e1e" stroke-width="0.12">0.740</text>
<line x1="187.00" y1="267.60" x2="187.00" y2="380.15" stroke="#000" stroke-width="1.5" />
<line x1="186.25" y1="379.40" x2="260.40" y2="379.40" stroke="#000" stroke-width="1.5" />
<line x1="182.70" y1="376.50" x2="187.00" y2="376.50" stroke="#000" stroke-width="1.3" />
<text x="179.40" y="379.80" font-size="9.5" font-weight="bold" text-anchor="end" fill="#000"  stroke="#000" stroke-width="0.25">0</text>
<line x1="182.70" y1="358.43" x2="187.00" y2="358.43" stroke="#000" stroke-width="1.3" />
<text x="179.40" y="361.73" font-size="9.5" font-weight="bold" text-anchor="end" fill="#000"  stroke="#000" stroke-width="0.25">2</text>
<line x1="182.70" y1="340.37" x2="187.00" y2="340.37" stroke="#000" stroke-width="1.3" />
<text x="179.40" y="343.67" font-size="9.5" font-weight="bold" text-anchor="end" fill="#000"  stroke="#000" stroke-width="0.25">4</text>
<line x1="182.70" y1="322.30" x2="187.00" y2="322.30" stroke="#000" stroke-width="1.3" />
<text x="179.40" y="325.60" font-size="9.5" font-weight="bold" text-anchor="end" fill="#000"  stroke="#000" stroke-width="0.25">6</text>
<line x1="182.70" y1="304.23" x2="187.00" y2="304.23" stroke="#000" stroke-width="1.3" />
<text x="179.40" y="307.53" font-size="9.5" font-weight="bold" text-anchor="end" fill="#000"  stroke="#000" stroke-width="0.25">8</text>
<line x1="182.70" y1="286.17" x2="187.00" y2="286.17" stroke="#000" stroke-width="1.3" />
<text x="179.40" y="289.47" font-size="9.5" font-weight="bold" text-anchor="end" fill="#000"  stroke="#000" stroke-width="0.25">10</text>
<line x1="182.70" y1="268.10" x2="187.00" y2="268.10" stroke="#000" stroke-width="1.3" />
<text x="179.40" y="271.40" font-size="9.5" font-weight="bold" text-anchor="end" fill="#000"  stroke="#000" stroke-width="0.25">12</text>
<line x1="184.50" y1="367.47" x2="187.00" y2="367.47" stroke="#000" stroke-width="1.2" />
<line x1="184.50" y1="349.40" x2="187.00" y2="349.40" stroke="#000" stroke-width="1.2" />
<line x1="184.50" y1="331.33" x2="187.00" y2="331.33" stroke="#000" stroke-width="1.2" />
<line x1="184.50" y1="313.27" x2="187.00" y2="313.27" stroke="#000" stroke-width="1.2" />
<line x1="184.50" y1="295.20" x2="187.00" y2="295.20" stroke="#000" stroke-width="1.2" />
<line x1="184.50" y1="277.13" x2="187.00" y2="277.13" stroke="#000" stroke-width="1.2" />
<text x="219.00" y="254.30" font-size="10.2" font-weight="bold" text-anchor="middle" fill="#000"  stroke="#000" stroke-width="0.25">ear</text>
<text x="167.60" y="359.40" font-size="9.4" font-weight="bold" text-anchor="start" fill="#000" transform="rotate(-90 167.60 359.40)"  stroke="#000" stroke-width="0.25">Pathology score</text>
<circle cx="196.30" cy="304.23" r="1.9" fill="none" stroke="#000" stroke-width="1.2"/>
<circle cx="192.70" cy="376.50" r="1.9" fill="none" stroke="#000" stroke-width="1.2"/>
<circle cx="196.90" cy="376.50" r="1.9" fill="none" stroke="#000" stroke-width="1.2"/>
<circle cx="199.80" cy="376.50" r="1.9" fill="none" stroke="#000" stroke-width="1.2"/>
<circle cx="207.70" cy="286.17" r="1.9" fill="none" stroke="#000" stroke-width="1.2"/>
<circle cx="210.30" cy="286.17" r="1.9" fill="none" stroke="#000" stroke-width="1.2"/>
<circle cx="211.80" cy="286.17" r="1.9" fill="none" stroke="#000" stroke-width="1.2"/>
<circle cx="213.30" cy="286.17" r="1.9" fill="none" stroke="#000" stroke-width="1.2"/>
<circle cx="214.80" cy="286.17" r="1.9" fill="none" stroke="#000" stroke-width="1.2"/>
<circle cx="216.30" cy="286.17" r="1.9" fill="none" stroke="#000" stroke-width="1.2"/>
<circle cx="217.80" cy="286.17" r="1.9" fill="none" stroke="#000" stroke-width="1.2"/>
<circle cx="219.00" cy="286.17" r="1.9" fill="none" stroke="#000" stroke-width="1.2"/>
<circle cx="214.60" cy="358.43" r="1.9" fill="none" stroke="#000" stroke-width="1.2"/>
<circle cx="218.70" cy="358.43" r="1.9" fill="none" stroke="#000" stroke-width="1.2"/>
<circle cx="214.60" cy="367.47" r="1.9" fill="none" stroke="#000" stroke-width="1.2"/>
<circle cx="214.60" cy="376.50" r="1.9" fill="none" stroke="#000" stroke-width="1.2"/>
<circle cx="226.20" cy="358.43" r="1.9" fill="none" stroke="#000" stroke-width="1.2"/>
<circle cx="232.90" cy="358.43" r="1.9" fill="none" stroke="#000" stroke-width="1.2"/>
<circle cx="229.60" cy="376.50" r="1.9" fill="none" stroke="#000" stroke-width="1.2"/>
<circle cx="232.90" cy="376.50" r="1.9" fill="none" stroke="#000" stroke-width="1.2"/>
<circle cx="236.30" cy="376.50" r="1.9" fill="none" stroke="#000" stroke-width="1.2"/>
<circle cx="245.50" cy="286.17" r="1.9" fill="none" stroke="#000" stroke-width="1.2"/>
<circle cx="248.00" cy="286.17" r="1.9" fill="none" stroke="#000" stroke-width="1.2"/>
<circle cx="249.50" cy="286.17" r="1.9" fill="none" stroke="#000" stroke-width="1.2"/>
<circle cx="251.00" cy="286.17" r="1.9" fill="none" stroke="#000" stroke-width="1.2"/>
<circle cx="252.50" cy="286.17" r="1.9" fill="none" stroke="#000" stroke-width="1.2"/>
<circle cx="254.00" cy="286.17" r="1.9" fill="none" stroke="#000" stroke-width="1.2"/>
<circle cx="255.30" cy="286.17" r="1.9" fill="none" stroke="#000" stroke-width="1.2"/>
<circle cx="248.30" cy="295.20" r="1.9" fill="none" stroke="#000" stroke-width="1.2"/>
<circle cx="251.00" cy="295.20" r="1.9" fill="none" stroke="#000" stroke-width="1.2"/>
<circle cx="252.50" cy="295.20" r="1.9" fill="none" stroke="#000" stroke-width="1.2"/>
<circle cx="254.00" cy="295.20" r="1.9" fill="none" stroke="#000" stroke-width="1.2"/>
<circle cx="255.30" cy="295.20" r="1.9" fill="none" stroke="#000" stroke-width="1.2"/>
<circle cx="252.20" cy="304.23" r="1.9" fill="none" stroke="#000" stroke-width="1.2"/>
<circle cx="251.70" cy="376.50" r="1.9" fill="none" stroke="#000" stroke-width="1.2"/>
<circle cx="255.60" cy="376.50" r="1.9" fill="none" stroke="#000" stroke-width="1.2"/>
<line x1="189.20" y1="361.14" x2="202.30" y2="361.14" stroke="#000" stroke-width="1.3" />
<line x1="208.00" y1="307.85" x2="221.00" y2="307.85" stroke="#000" stroke-width="1.3" />
<line x1="226.70" y1="368.82" x2="238.80" y2="368.82" stroke="#000" stroke-width="1.3" />
<line x1="245.00" y1="301.52" x2="258.00" y2="301.52" stroke="#000" stroke-width="1.3" />
<line x1="196.30" y1="379.40" x2="196.30" y2="381.90" stroke="#000" stroke-width="1.2" />
<text x="199.00" y="386.40" font-size="9.4" font-weight="bold" text-anchor="end" fill="#000" transform="rotate(-90 199.00 386.40)"  stroke="#000" stroke-width="0.25">Tg- BM alone</text>
<line x1="214.90" y1="379.40" x2="214.90" y2="381.90" stroke="#000" stroke-width="1.2" />
<text x="217.60" y="386.40" font-size="9.4" font-weight="bold" text-anchor="end" fill="#000" transform="rotate(-90 217.60 386.40)"  stroke="#000" stroke-width="0.25">Tg- BM/CD8</text>
<line x1="233.50" y1="379.40" x2="233.50" y2="381.90" stroke="#000" stroke-width="1.2" />
<text x="236.20" y="388.20" font-size="9.4" font-weight="bold" text-anchor="end" fill="#000" transform="rotate(-90 236.20 388.20)"  stroke="#000" stroke-width="0.25">Tg+ BM alone</text>
<line x1="251.40" y1="379.40" x2="251.40" y2="381.90" stroke="#000" stroke-width="1.2" />
<text x="254.10" y="386.40" font-size="9.4" font-weight="bold" text-anchor="end" fill="#000" transform="rotate(-90 254.10 386.40)"  stroke="#000" stroke-width="0.25">Tg+ BM/CD8</text>
<path d="M195.80,453.80 Q195.80,456.00 197.40,456.00 L212.20,456.00 Q213.80,456.00 213.80,453.80" fill="none" stroke="#1e1e1e" stroke-width="1.0"/>
<text x="204.80" y="464.80" font-size="8.1" font-weight="normal" text-anchor="middle" fill="#1e1e1e" stroke="#1e1e1e" stroke-width="0.12">0.004</text>
<path d="M233.50,453.80 Q233.50,456.00 235.10,456.00 L250.40,456.00 Q252.00,456.00 252.00,453.80" fill="none" stroke="#1e1e1e" stroke-width="1.0"/>
<text x="242.75" y="464.80" font-size="8.1" font-weight="normal" text-anchor="middle" fill="#1e1e1e" stroke="#1e1e1e" stroke-width="0.12">0.004</text>
<path d="M214.90,468.00 Q214.90,470.20 216.50,470.20 L249.40,470.20 Q251.00,470.20 251.00,468.00" fill="none" stroke="#1e1e1e" stroke-width="1.0"/>
<text x="232.95" y="477.80" font-size="8.1" font-weight="normal" text-anchor="middle" fill="#1e1e1e" stroke="#1e1e1e" stroke-width="0.12">0.610</text>
<line x1="311.80" y1="269.30" x2="311.80" y2="383.15" stroke="#000" stroke-width="1.5" />
<line x1="311.05" y1="382.40" x2="386.50" y2="382.40" stroke="#000" stroke-width="1.5" />
<line x1="307.50" y1="382.00" x2="311.80" y2="382.00" stroke="#000" stroke-width="1.3" />
<text x="306.50" y="385.30" font-size="9.5" font-weight="bold" text-anchor="end" fill="#000"  stroke="#000" stroke-width="0.25">0</text>
<line x1="307.50" y1="353.95" x2="311.80" y2="353.95" stroke="#000" stroke-width="1.3" />
<text x="306.50" y="357.25" font-size="9.5" font-weight="bold" text-anchor="end" fill="#000"  stroke="#000" stroke-width="0.25">2</text>
<line x1="307.50" y1="325.90" x2="311.80" y2="325.90" stroke="#000" stroke-width="1.3" />
<text x="306.50" y="329.20" font-size="9.5" font-weight="bold" text-anchor="end" fill="#000"  stroke="#000" stroke-width="0.25">4</text>
<line x1="307.50" y1="297.85" x2="311.80" y2="297.85" stroke="#000" stroke-width="1.3" />
<text x="306.50" y="301.15" font-size="9.5" font-weight="bold" text-anchor="end" fill="#000"  stroke="#000" stroke-width="0.25">6</text>
<line x1="307.50" y1="269.80" x2="311.80" y2="269.80" stroke="#000" stroke-width="1.3" />
<text x="306.50" y="273.10" font-size="9.5" font-weight="bold" text-anchor="end" fill="#000"  stroke="#000" stroke-width="0.25">8</text>
<line x1="309.30" y1="367.98" x2="311.80" y2="367.98" stroke="#000" stroke-width="1.2" />
<line x1="309.30" y1="339.93" x2="311.80" y2="339.93" stroke="#000" stroke-width="1.2" />
<line x1="309.30" y1="311.88" x2="311.80" y2="311.88" stroke="#000" stroke-width="1.2" />
<line x1="309.30" y1="283.83" x2="311.80" y2="283.83" stroke="#000" stroke-width="1.2" />
<text x="346.90" y="254.80" font-size="10.2" font-weight="bold" text-anchor="middle" fill="#000"  stroke="#000" stroke-width="0.25">liver</text>
<text x="292.40" y="361.20" font-size="9.4" font-weight="bold" text-anchor="start" fill="#000" transform="rotate(-90 292.40 361.20)"  stroke="#000" stroke-width="0.25">Pathology score</text>
<circle cx="314.70" cy="353.95" r="1.9" fill="none" stroke="#000" stroke-width="1.2"/>
<circle cx="321.30" cy="337.12" r="1.9" fill="none" stroke="#000" stroke-width="1.2"/>
<circle cx="321.30" cy="357.46" r="1.9" fill="none" stroke="#000" stroke-width="1.2"/>
<circle cx="321.30" cy="364.47" r="1.9" fill="none" stroke="#000" stroke-width="1.2"/>
<circle cx="325.10" cy="364.47" r="1.9" fill="none" stroke="#000" stroke-width="1.2"/>
<circle cx="333.20" cy="325.90" r="1.9" fill="none" stroke="#000" stroke-width="1.2"/>
<circle cx="340.20" cy="322.39" r="1.9" fill="none" stroke="#000" stroke-width="1.2"/>
<circle cx="340.20" cy="329.41" r="1.9" fill="none" stroke="#000" stroke-width="1.2"/>
<circle cx="340.20" cy="337.12" r="1.9" fill="none" stroke="#000" stroke-width="1.2"/>
<circle cx="343.60" cy="337.12" r="1.9" fill="none" stroke="#000" stroke-width="1.2"/>
<circle cx="343.60" cy="343.43" r="1.9" fill="none" stroke="#000" stroke-width="1.2"/>
<circle cx="333.20" cy="346.94" r="1.9" fill="none" stroke="#000" stroke-width="1.2"/>
<circle cx="340.20" cy="346.94" r="1.9" fill="none" stroke="#000" stroke-width="1.2"/>
<circle cx="336.30" cy="357.46" r="1.9" fill="none" stroke="#000" stroke-width="1.2"/>
<circle cx="340.20" cy="357.46" r="1.9" fill="none" stroke="#000" stroke-width="1.2"/>
<circle cx="343.60" cy="357.46" r="1.9" fill="none" stroke="#000" stroke-width="1.2"/>
<circle cx="340.20" cy="364.47" r="1.9" fill="none" stroke="#000" stroke-width="1.2"/>
<circle cx="340.20" cy="371.48" r="1.9" fill="none" stroke="#000" stroke-width="1.2"/>
<circle cx="343.60" cy="371.48" r="1.9" fill="none" stroke="#000" stroke-width="1.2"/>
<circle cx="351.60" cy="353.95" r="1.9" fill="none" stroke="#000" stroke-width="1.2"/>
<circle cx="358.50" cy="357.46" r="1.9" fill="none" stroke="#000" stroke-width="1.2"/>
<circle cx="355.00" cy="360.96" r="1.9" fill="none" stroke="#000" stroke-width="1.2"/>
<circle cx="358.50" cy="364.47" r="1.9" fill="none" stroke="#000" stroke-width="1.2"/>
<circle cx="362.00" cy="364.47" r="1.9" fill="none" stroke="#000" stroke-width="1.2"/>
<circle cx="377.20" cy="273.31" r="1.9" fill="none" stroke="#000" stroke-width="1.2"/>
<circle cx="377.40" cy="322.39" r="1.9" fill="none" stroke="#000" stroke-width="1.2"/>
<circle cx="370.40" cy="339.93" r="1.9" fill="none" stroke="#000" stroke-width="1.2"/>
<circle cx="377.40" cy="339.93" r="1.9" fill="none" stroke="#000" stroke-width="1.2"/>
<circle cx="373.90" cy="343.43" r="1.9" fill="none" stroke="#000" stroke-width="1.2"/>
<circle cx="379.60" cy="343.43" r="1.9" fill="none" stroke="#000" stroke-width="1.2"/>
<circle cx="377.40" cy="346.94" r="1.9" fill="none" stroke="#000" stroke-width="1.2"/>
<circle cx="380.80" cy="346.94" r="1.9" fill="none" stroke="#000" stroke-width="1.2"/>
<circle cx="373.90" cy="353.95" r="1.9" fill="none" stroke="#000" stroke-width="1.2"/>
<circle cx="379.60" cy="353.95" r="1.9" fill="none" stroke="#000" stroke-width="1.2"/>
<circle cx="380.80" cy="353.95" r="1.9" fill="none" stroke="#000" stroke-width="1.2"/>
<circle cx="370.40" cy="357.46" r="1.9" fill="none" stroke="#000" stroke-width="1.2"/>
<circle cx="377.40" cy="357.46" r="1.9" fill="none" stroke="#000" stroke-width="1.2"/>
<circle cx="377.40" cy="371.48" r="1.9" fill="none" stroke="#000" stroke-width="1.2"/>
<circle cx="380.80" cy="371.48" r="1.9" fill="none" stroke="#000" stroke-width="1.2"/>
<line x1="317.30" y1="354.93" x2="327.30" y2="354.93" stroke="#000" stroke-width="1.3" />
<line x1="335.50" y1="347.36" x2="345.30" y2="347.36" stroke="#000" stroke-width="1.3" />
<line x1="352.80" y1="359.98" x2="364.00" y2="359.98" stroke="#000" stroke-width="1.3" />
<line x1="372.70" y1="344.55" x2="381.30" y2="344.55" stroke="#000" stroke-width="1.3" />
<line x1="321.70" y1="382.40" x2="321.70" y2="384.90" stroke="#000" stroke-width="1.2" />
<text x="324.40" y="389.20" font-size="9.4" font-weight="bold" text-anchor="end" fill="#000" transform="rotate(-90 324.40 389.20)"  stroke="#000" stroke-width="0.25">Tg- BM alone</text>
<line x1="340.30" y1="382.40" x2="340.30" y2="384.90" stroke="#000" stroke-width="1.2" />
<text x="343.00" y="389.20" font-size="9.4" font-weight="bold" text-anchor="end" fill="#000" transform="rotate(-90 343.00 389.20)"  stroke="#000" stroke-width="0.25">Tg- BM/CD8</text>
<line x1="358.50" y1="382.40" x2="358.50" y2="384.90" stroke="#000" stroke-width="1.2" />
<text x="361.20" y="389.20" font-size="9.4" font-weight="bold" text-anchor="end" fill="#000" transform="rotate(-90 361.20 389.20)"  stroke="#000" stroke-width="0.25">Tg+BM alone</text>
<line x1="376.40" y1="382.40" x2="376.40" y2="384.90" stroke="#000" stroke-width="1.2" />
<text x="379.10" y="389.20" font-size="9.4" font-weight="bold" text-anchor="end" fill="#000" transform="rotate(-90 379.10 389.20)"  stroke="#000" stroke-width="0.25">Tg+ BM/CD8</text>
<path d="M321.70,454.20 Q321.70,456.40 323.30,456.40 L338.30,456.40 Q339.90,456.40 339.90,454.20" fill="none" stroke="#1e1e1e" stroke-width="1.0"/>
<text x="330.80" y="464.80" font-size="8.1" font-weight="normal" text-anchor="middle" fill="#1e1e1e" stroke="#1e1e1e" stroke-width="0.12">0.202</text>
<path d="M360.60,454.20 Q360.60,456.40 362.20,456.40 L376.60,456.40 Q378.20,456.40 378.20,454.20" fill="none" stroke="#1e1e1e" stroke-width="1.0"/>
<text x="369.40" y="464.80" font-size="8.1" font-weight="normal" text-anchor="middle" fill="#1e1e1e" stroke="#1e1e1e" stroke-width="0.12">0.025</text>
<path d="M341.00,468.00 Q341.00,470.20 342.60,470.20 L375.40,470.20 Q377.00,470.20 377.00,468.00" fill="none" stroke="#1e1e1e" stroke-width="1.0"/>
<text x="359.00" y="477.80" font-size="8.1" font-weight="normal" text-anchor="middle" fill="#1e1e1e" stroke="#1e1e1e" stroke-width="0.12">1.000</text>
<line x1="437.00" y1="269.80" x2="437.00" y2="382.75" stroke="#000" stroke-width="1.5" />
<line x1="436.25" y1="382.00" x2="511.30" y2="382.00" stroke="#000" stroke-width="1.5" />
<line x1="432.70" y1="376.70" x2="437.00" y2="376.70" stroke="#000" stroke-width="1.3" />
<text x="430.10" y="380.00" font-size="9.5" font-weight="bold" text-anchor="end" fill="#000"  stroke="#000" stroke-width="0.25">0</text>
<line x1="432.70" y1="341.23" x2="437.00" y2="341.23" stroke="#000" stroke-width="1.3" />
<text x="430.10" y="344.53" font-size="9.5" font-weight="bold" text-anchor="end" fill="#000"  stroke="#000" stroke-width="0.25">2</text>
<line x1="432.70" y1="305.77" x2="437.00" y2="305.77" stroke="#000" stroke-width="1.3" />
<text x="430.10" y="309.07" font-size="9.5" font-weight="bold" text-anchor="end" fill="#000"  stroke="#000" stroke-width="0.25">4</text>
<line x1="432.70" y1="270.30" x2="437.00" y2="270.30" stroke="#000" stroke-width="1.3" />
<text x="430.10" y="273.60" font-size="9.5" font-weight="bold" text-anchor="end" fill="#000"  stroke="#000" stroke-width="0.25">6</text>
<line x1="434.50" y1="358.97" x2="437.00" y2="358.97" stroke="#000" stroke-width="1.2" />
<line x1="434.50" y1="323.50" x2="437.00" y2="323.50" stroke="#000" stroke-width="1.2" />
<line x1="434.50" y1="288.03" x2="437.00" y2="288.03" stroke="#000" stroke-width="1.2" />
<text x="469.90" y="255.10" font-size="10.2" font-weight="bold" text-anchor="middle" fill="#000"  stroke="#000" stroke-width="0.25">colon</text>
<text x="417.60" y="361.20" font-size="9.4" font-weight="bold" text-anchor="start" fill="#000" transform="rotate(-90 417.60 361.20)"  stroke="#000" stroke-width="0.25">Pathology score</text>
<circle cx="439.80" cy="367.12" r="1.9" fill="none" stroke="#000" stroke-width="1.2"/>
<circle cx="446.30" cy="367.12" r="1.9" fill="none" stroke="#000" stroke-width="1.2"/>
<circle cx="449.80" cy="367.12" r="1.9" fill="none" stroke="#000" stroke-width="1.2"/>
<circle cx="446.30" cy="347.44" r="1.9" fill="none" stroke="#000" stroke-width="1.2"/>
<circle cx="446.30" cy="376.70" r="1.9" fill="none" stroke="#000" stroke-width="1.2"/>
<circle cx="464.00" cy="277.57" r="1.9" fill="none" stroke="#000" stroke-width="1.2"/>
<circle cx="457.90" cy="339.81" r="1.9" fill="none" stroke="#000" stroke-width="1.2"/>
<circle cx="464.60" cy="339.81" r="1.9" fill="none" stroke="#000" stroke-width="1.2"/>
<circle cx="468.50" cy="332.54" r="1.9" fill="none" stroke="#000" stroke-width="1.2"/>
<circle cx="464.60" cy="332.54" r="1.9" fill="none" stroke="#000" stroke-width="1.2"/>
<circle cx="468.50" cy="343.01" r="1.9" fill="none" stroke="#000" stroke-width="1.2"/>
<circle cx="464.60" cy="346.55" r="1.9" fill="none" stroke="#000" stroke-width="1.2"/>
<circle cx="457.90" cy="351.70" r="1.9" fill="none" stroke="#000" stroke-width="1.2"/>
<circle cx="468.50" cy="350.81" r="1.9" fill="none" stroke="#000" stroke-width="1.2"/>
<circle cx="464.60" cy="355.07" r="1.9" fill="none" stroke="#000" stroke-width="1.2"/>
<circle cx="461.30" cy="365.71" r="1.9" fill="none" stroke="#000" stroke-width="1.2"/>
<circle cx="464.60" cy="367.12" r="1.9" fill="none" stroke="#000" stroke-width="1.2"/>
<circle cx="468.50" cy="365.71" r="1.9" fill="none" stroke="#000" stroke-width="1.2"/>
<circle cx="476.30" cy="367.12" r="1.9" fill="none" stroke="#000" stroke-width="1.2"/>
<circle cx="483.50" cy="354.18" r="1.9" fill="none" stroke="#000" stroke-width="1.2"/>
<circle cx="483.50" cy="369.07" r="1.9" fill="none" stroke="#000" stroke-width="1.2"/>
<circle cx="483.50" cy="376.70" r="1.9" fill="none" stroke="#000" stroke-width="1.2"/>
<circle cx="502.50" cy="296.37" r="1.9" fill="none" stroke="#000" stroke-width="1.2"/>
<circle cx="499.40" cy="314.10" r="1.9" fill="none" stroke="#000" stroke-width="1.2"/>
<circle cx="505.60" cy="314.10" r="1.9" fill="none" stroke="#000" stroke-width="1.2"/>
<circle cx="502.50" cy="320.31" r="1.9" fill="none" stroke="#000" stroke-width="1.2"/>
<circle cx="496.00" cy="335.91" r="1.9" fill="none" stroke="#000" stroke-width="1.2"/>
<circle cx="502.70" cy="336.98" r="1.9" fill="none" stroke="#000" stroke-width="1.2"/>
<circle cx="502.70" cy="353.65" r="1.9" fill="none" stroke="#000" stroke-width="1.2"/>
<circle cx="496.00" cy="367.12" r="1.9" fill="none" stroke="#000" stroke-width="1.2"/>
<circle cx="502.70" cy="367.12" r="1.9" fill="none" stroke="#000" stroke-width="1.2"/>
<circle cx="506.00" cy="365.71" r="1.9" fill="none" stroke="#000" stroke-width="1.2"/>
<circle cx="502.70" cy="374.93" r="1.9" fill="none" stroke="#000" stroke-width="1.2"/>
<circle cx="498.80" cy="376.70" r="1.9" fill="none" stroke="#000" stroke-width="1.2"/>
<circle cx="502.70" cy="376.70" r="1.9" fill="none" stroke="#000" stroke-width="1.2"/>
<circle cx="506.00" cy="376.70" r="1.9" fill="none" stroke="#000" stroke-width="1.2"/>
<line x1="442.20" y1="364.82" x2="451.60" y2="364.82" stroke="#000" stroke-width="1.3" />
<line x1="459.40" y1="342.65" x2="470.40" y2="342.65" stroke="#000" stroke-width="1.3" />
<line x1="478.70" y1="366.24" x2="489.20" y2="366.24" stroke="#000" stroke-width="1.3" />
<line x1="496.50" y1="347.97" x2="508.80" y2="347.97" stroke="#000" stroke-width="1.3" />
<line x1="446.70" y1="382.00" x2="446.70" y2="384.50" stroke="#000" stroke-width="1.2" />
<text x="449.40" y="388.60" font-size="9.4" font-weight="bold" text-anchor="end" fill="#000" transform="rotate(-90 449.40 388.60)"  stroke="#000" stroke-width="0.25">Tg- BM alone</text>
<line x1="465.30" y1="382.00" x2="465.30" y2="384.50" stroke="#000" stroke-width="1.2" />
<text x="468.00" y="388.60" font-size="9.4" font-weight="bold" text-anchor="end" fill="#000" transform="rotate(-90 468.00 388.60)"  stroke="#000" stroke-width="0.25">Tg- BM/CD8</text>
<line x1="483.50" y1="382.00" x2="483.50" y2="384.50" stroke="#000" stroke-width="1.2" />
<text x="486.20" y="388.60" font-size="9.4" font-weight="bold" text-anchor="end" fill="#000" transform="rotate(-90 486.20 388.60)"  stroke="#000" stroke-width="0.25">Tg+BM alone</text>
<line x1="502.00" y1="382.00" x2="502.00" y2="384.50" stroke="#000" stroke-width="1.2" />
<text x="504.70" y="388.60" font-size="9.4" font-weight="bold" text-anchor="end" fill="#000" transform="rotate(-90 504.70 388.60)"  stroke="#000" stroke-width="0.25">Tg+ BM/CD8</text>
<path d="M446.70,454.20 Q446.70,456.40 448.30,456.40 L463.30,456.40 Q464.90,456.40 464.90,454.20" fill="none" stroke="#1e1e1e" stroke-width="1.0"/>
<text x="455.80" y="464.80" font-size="8.1" font-weight="normal" text-anchor="middle" fill="#1e1e1e" stroke="#1e1e1e" stroke-width="0.12">0.006</text>
<path d="M484.50,454.20 Q484.50,456.40 486.10,456.40 L501.10,456.40 Q502.70,456.40 502.70,454.20" fill="none" stroke="#1e1e1e" stroke-width="1.0"/>
<text x="493.60" y="464.80" font-size="8.1" font-weight="normal" text-anchor="middle" fill="#1e1e1e" stroke="#1e1e1e" stroke-width="0.12">0.156</text>
<path d="M465.30,468.00 Q465.30,470.20 466.90,470.20 L500.40,470.20 Q502.00,470.20 502.00,468.00" fill="none" stroke="#1e1e1e" stroke-width="1.0"/>
<text x="483.65" y="477.80" font-size="8.1" font-weight="normal" text-anchor="middle" fill="#1e1e1e" stroke="#1e1e1e" stroke-width="0.12">0.408</text>
</svg>
</body></html>
